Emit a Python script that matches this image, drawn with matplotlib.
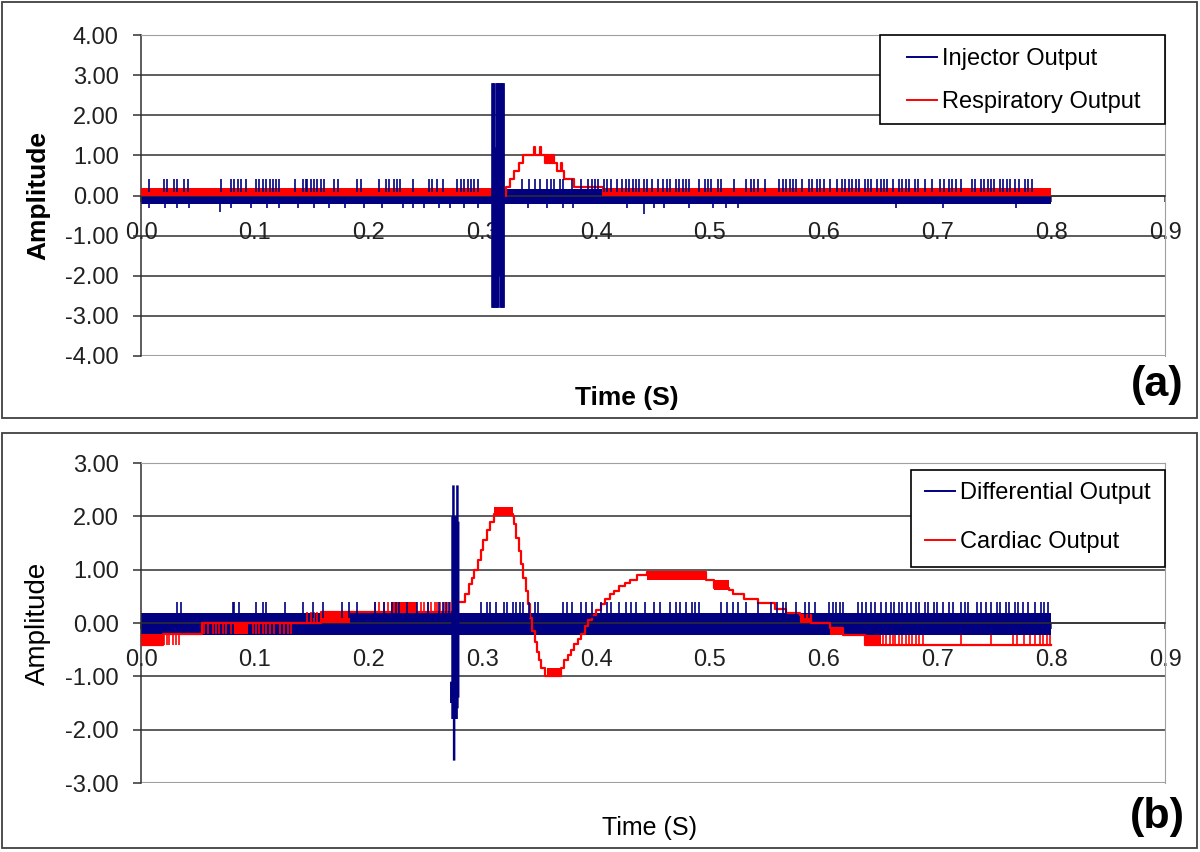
import numpy as np
import matplotlib.pyplot as plt
from matplotlib.patches import Rectangle
from matplotlib.lines import Line2D

plt.rcParams['font.family'] = ['Liberation Sans', 'DejaVu Sans']

NAVY = '#000080'
RED = '#ff0000'
GRID = '#303030'
EDGE = '#a0a0a0'

# axes
t_ticks = [0.0, 0.1, 0.2, 0.3, 0.4, 0.5, 0.6, 0.7, 0.8, 0.9]
t_labels = ['0.0', '0.1', '0.2', '0.3', '0.4', '0.5', '0.6', '0.7', '0.8', '0.9']
ya_ticks = [-4, -3, -2, -1, 0, 1, 2, 3, 4]
yb_ticks = [-3, -2, -1, 0, 1, 2, 3]

# ---------------- (a) injector output ----------------
inj_floor_t = [0.0, 0.8]
inj_floor_lo = [-0.20, -0.20]
inj_floor_hi = [0.17, 0.17]
inj_up_t = [0.007, 0.020, 0.023, 0.029, 0.032, 0.038, 0.041, 0.070, 0.079, 0.082,
            0.085, 0.088, 0.092, 0.101, 0.104, 0.107, 0.110, 0.113, 0.116, 0.119,
            0.121, 0.135, 0.142, 0.145, 0.146, 0.149, 0.152, 0.155, 0.158, 0.161,
            0.170, 0.173, 0.190, 0.193, 0.209, 0.215, 0.218, 0.222, 0.225, 0.228,
            0.239, 0.253, 0.256, 0.260, 0.265, 0.278, 0.281, 0.284, 0.287, 0.290,
            0.293, 0.296, 0.335, 0.341, 0.346, 0.351, 0.357, 0.360, 0.363, 0.368,
            0.371, 0.379, 0.387, 0.393, 0.396, 0.399, 0.402, 0.407, 0.410, 0.413,
            0.418, 0.423, 0.426, 0.429, 0.432, 0.435, 0.438, 0.442, 0.445, 0.449,
            0.454, 0.459, 0.462, 0.465, 0.470, 0.473, 0.476, 0.479, 0.482, 0.490,
            0.496, 0.498, 0.501, 0.507, 0.510, 0.521, 0.532, 0.536, 0.539, 0.542,
            0.548, 0.561, 0.564, 0.567, 0.570, 0.573, 0.576, 0.581, 0.587, 0.590,
            0.594, 0.597, 0.600, 0.606, 0.612, 0.616, 0.619, 0.622, 0.625, 0.628,
            0.631, 0.636, 0.639, 0.642, 0.647, 0.650, 0.653, 0.656, 0.661, 0.666,
            0.669, 0.672, 0.675, 0.680, 0.683, 0.689, 0.695, 0.702, 0.706, 0.710,
            0.713, 0.716, 0.721, 0.730, 0.733, 0.738, 0.741, 0.744, 0.747, 0.750,
            0.755, 0.758, 0.761, 0.764, 0.768, 0.772, 0.777, 0.780, 0.783]
inj_up_top = 0.42
inj_dn_t = [0.007, 0.021, 0.032, 0.042, 0.069, 0.079, 0.097, 0.111, 0.121, 0.138,
            0.152, 0.165, 0.179, 0.196, 0.212, 0.230, 0.239, 0.249, 0.262, 0.272,
            0.284, 0.296, 0.340, 0.357, 0.371, 0.380, 0.427, 0.442, 0.451, 0.460,
            0.482, 0.503, 0.514, 0.525, 0.664, 0.705, 0.769]
inj_dn_v = [-0.30, -0.30, -0.30, -0.30, -0.42, -0.30, -0.30, -0.30, -0.30, -0.30,
            -0.30, -0.30, -0.30, -0.30, -0.30, -0.30, -0.30, -0.30, -0.30, -0.30,
            -0.30, -0.30, -0.30, -0.30, -0.30, -0.30, -0.30, -0.45, -0.30, -0.30,
            -0.30, -0.30, -0.30, -0.30, -0.30, -0.30, -0.30]
inj_burst_t = [0.3090, 0.3102, 0.3114, 0.3126, 0.3138, 0.3150, 0.3162, 0.3174, 0.3186]
inj_burst_hi = [2.80, 2.80, 1.20, 2.80, 2.80, 2.80, 2.80, 2.80, 2.80]
inj_burst_lo = [-2.80, -2.80, -2.80, -2.80, -2.80, -2.00, -2.80, -2.80, -2.80]

# (a) respiratory output
resp_floor_t0 = [0.000, 0.405]
resp_floor_t1 = [0.316, 0.800]
resp_floor_lo = 0.00
resp_floor_hi = 0.19
resp_t = [0.316, 0.321, 0.324, 0.328, 0.332, 0.336, 0.345, 0.346, 0.351, 0.352,
          0.355, 0.356, 0.357, 0.358, 0.359, 0.360, 0.361, 0.362, 0.363, 0.366,
          0.369, 0.370, 0.372, 0.381, 0.405]
resp_v = [0.00, 0.20, 0.40, 0.60, 0.80, 1.00, 1.20, 1.00, 1.20, 1.00,
          0.80, 1.00, 0.80, 1.00, 0.80, 1.00, 0.80, 1.00, 0.80, 0.60,
          0.80, 0.60, 0.40, 0.20, 0.20]

# ---------------- (b) differential output ----------------
diff_floor_t = [0.0, 0.8]
diff_floor_lo = [-0.22, -0.22]
diff_floor_hi = [0.18, 0.18]
diff_up_t = [0.032, 0.035, 0.081, 0.082, 0.086, 0.101, 0.107, 0.110, 0.127, 0.142,
             0.151, 0.160, 0.177, 0.183, 0.190, 0.206, 0.214, 0.221, 0.224, 0.227,
             0.234, 0.243, 0.252, 0.262, 0.265, 0.268, 0.271, 0.299, 0.304, 0.307,
             0.312, 0.319, 0.322, 0.327, 0.330, 0.333, 0.336, 0.341, 0.346, 0.349,
             0.371, 0.374, 0.379, 0.387, 0.391, 0.396, 0.404, 0.410, 0.413, 0.420,
             0.426, 0.431, 0.435, 0.443, 0.451, 0.456, 0.465, 0.470, 0.474, 0.479,
             0.484, 0.487, 0.490, 0.510, 0.515, 0.520, 0.525, 0.532, 0.542, 0.554,
             0.559, 0.564, 0.567, 0.576, 0.584, 0.587, 0.592, 0.605, 0.608, 0.611,
             0.614, 0.617, 0.630, 0.634, 0.637, 0.642, 0.645, 0.650, 0.655, 0.659,
             0.662, 0.666, 0.669, 0.673, 0.677, 0.681, 0.684, 0.689, 0.692, 0.697,
             0.700, 0.705, 0.710, 0.714, 0.721, 0.724, 0.727, 0.735, 0.738, 0.743,
             0.747, 0.752, 0.755, 0.760, 0.763, 0.768, 0.771, 0.775, 0.780, 0.786,
             0.791, 0.794, 0.797]
diff_up_top = 0.40
diff_burst_t = [0.2727, 0.2738, 0.2746, 0.2752, 0.2762, 0.2774, 0.2781, 0.2788]
diff_burst_hi = [-1.10, 2.00, 2.58, 2.00, 2.00, 2.00, 2.58, 1.90]
diff_burst_lo = [-1.50, -1.80, -1.80, -2.58, -1.80, -1.80, -1.60, -1.40]

# (b) cardiac output
card_blk_t0 = [0.000, 0.082, 0.158, 0.220, 0.310, 0.357, 0.445, 0.504, 0.579, 0.606, 0.636]
card_blk_t1 = [0.019, 0.094, 0.184, 0.243, 0.327, 0.369, 0.497, 0.517, 0.589, 0.617, 0.650]
card_blk_lo = [-0.42, -0.20, 0.00, 0.20, 2.00, -1.00, 0.80, 0.62, 0.00, -0.23, -0.42]
card_blk_hi = [-0.20, 0.00, 0.20, 0.40, 2.17, -0.85, 0.96, 0.81, 0.15, -0.10, -0.23]
card_t = [0.000, 0.019, 0.054, 0.158, 0.277, 0.285, 0.288, 0.291, 0.293, 0.296,
          0.299, 0.301, 0.304, 0.307, 0.310, 0.327, 0.328, 0.330, 0.332, 0.334,
          0.336, 0.338, 0.340, 0.342, 0.344, 0.346, 0.348, 0.350, 0.352, 0.355,
          0.369, 0.372, 0.375, 0.378, 0.381, 0.384, 0.387, 0.390, 0.393, 0.396,
          0.400, 0.404, 0.408, 0.412, 0.416, 0.420, 0.425, 0.430, 0.436, 0.445,
          0.497, 0.504, 0.517, 0.520, 0.530, 0.542, 0.557, 0.567, 0.579, 0.589,
          0.606, 0.617, 0.636, 0.800]
card_v = [-0.42, -0.20, 0.00, 0.20, 0.40, 0.55, 0.73, 0.85, 1.00, 1.18,
          1.37, 1.56, 1.75, 1.90, 2.05, 2.00, 1.85, 1.60, 1.35, 1.10,
          0.85, 0.60, 0.35, 0.10, -0.15, -0.35, -0.55, -0.70, -0.85, -1.00,
          -0.85, -0.70, -0.60, -0.50, -0.40, -0.30, -0.20, -0.05, 0.05, 0.15,
          0.25, 0.35, 0.45, 0.55, 0.60, 0.70, 0.75, 0.80, 0.90, 0.96,
          0.80, 0.65, 0.62, 0.55, 0.45, 0.37, 0.27, 0.18, 0.15, 0.00,
          -0.10, -0.23, -0.42, -0.42]
card_tick_t = [
    [0.0205, 0.0228, 0.0249, 0.0278, 0.0307, 0.0337],
    [0.0556, 0.0585, 0.0629, 0.0659, 0.0688, 0.0717, 0.0747, 0.0790, 0.0981, 0.101,
     0.104, 0.107, 0.110, 0.113, 0.117, 0.122, 0.126, 0.129, 0.132],
    [0.146, 0.149, 0.152, 0.155],
    [0.206, 0.209, 0.214, 0.217, 0.246, 0.249, 0.252, 0.255, 0.258, 0.260,
     0.263, 0.266, 0.269, 0.272, 0.275],
    [0.652, 0.655, 0.658, 0.661, 0.663, 0.666, 0.669, 0.672, 0.675, 0.678,
     0.681, 0.684, 0.687, 0.721, 0.747, 0.766, 0.770, 0.776, 0.781, 0.786,
     0.790, 0.793, 0.796, 0.799],
]
card_tick_lo = [-0.42, -0.20, 0.00, 0.20, -0.42]
card_tick_hi = [-0.20, 0.00, 0.20, 0.40, -0.23]

W, H = 1200, 852
fig = plt.figure(figsize=(W / 100, H / 100), dpi=100)


def px(x, y):
    return x / W, 1 - y / H


def setup(ax, yticks):
    ax.set_xlim(0, 0.9)
    ax.set_ylim(yticks[0], yticks[-1])
    ax.set_xticks(t_ticks)
    ax.set_xticklabels(t_labels)
    ax.set_yticks(yticks)
    ax.set_yticklabels(['%.2f' % v for v in yticks])
    ax.spines['bottom'].set_position(('data', 0))
    ax.spines['bottom'].set_color(GRID)
    ax.spines['bottom'].set_linewidth(1.1)
    ax.spines['left'].set_color(GRID)
    ax.spines['left'].set_linewidth(1.1)
    ax.spines['top'].set_color(EDGE)
    ax.spines['right'].set_color(EDGE)
    ax.axhline(yticks[0], color=EDGE, lw=1.5, zorder=1)
    for v in yticks[1:-1]:
        ax.axhline(v, color=GRID, lw=1.1, zorder=1)
    ax.tick_params(axis='x', direction='out', length=4, width=1.1, color=GRID,
                   pad=15, labelsize=17, labelcolor='#202020')
    ax.tick_params(axis='y', direction='out', length=6, width=1.1, color=GRID,
                   pad=10, labelsize=17, labelcolor='#202020')


def frame(y0, y1):
    x, y = px(2, y1)
    fig.patches.append(Rectangle((x, y), 1195 / W, (y1 - y0) / H, transform=fig.transFigure,
                                 fill=False, ec='#404040', lw=1.3))


def legend_box(ax, labels, box, handle_x, text_top, spacing):
    x0, y0, x1, y1 = box
    ax.add_patch(Rectangle(px(x0, y1), (x1 - x0) / W, (y1 - y0) / H,
                           transform=fig.transFigure, fc='white', ec='black', lw=1.2,
                           zorder=9, clip_on=False))
    handles = [Line2D([], [], color=NAVY, lw=1.4), Line2D([], [], color=RED, lw=1.4)]
    leg = ax.legend(handles, labels, loc='upper left', bbox_to_anchor=px(handle_x, text_top),
                    bbox_transform=fig.transFigure, frameon=False, borderpad=0,
                    borderaxespad=0, fontsize=17, handlelength=1.27, handletextpad=0.22,
                    labelspacing=spacing)
    leg.set_zorder(10)


# ----- panel (a) -----
frame(2, 418)
ax1 = fig.add_axes([141 / W, 1 - 356 / H, 1024 / W, 321 / H])
setup(ax1, ya_ticks)
ax1.fill_between(inj_floor_t, inj_floor_lo, inj_floor_hi, color=NAVY, lw=0, zorder=2)
for t0, t1 in zip(resp_floor_t0, resp_floor_t1):
    ax1.fill_between([t0, t1], resp_floor_lo, resp_floor_hi, color=RED, lw=0, zorder=3)
ax1.plot(resp_t, resp_v, drawstyle='steps-post', color=RED, lw=1.6, zorder=3.5)
ax1.vlines(inj_up_t, 0.08, inj_up_top, color=NAVY, lw=1.2, zorder=4)
ax1.vlines(inj_dn_t, inj_dn_v, -0.15, color=NAVY, lw=1.2, zorder=4)
burst = ax1.vlines(inj_burst_t, inj_burst_lo, inj_burst_hi, color=NAVY, lw=2.0, zorder=5)
burst.set_snap(False)
legend_box(ax1, ['Injector Output', 'Respiratory Output'], (880, 35, 1165, 124),
           907, 48, 0.89)

fig.text(*px(38, 195), 'Amplitude', rotation=90, ha='center', va='center',
         fontsize=19, fontweight='bold')
fig.text(*px(627, 398), 'Time (S)', ha='center', va='center', fontsize=19, fontweight='bold')
fig.text(*px(1157, 385), '(a)', ha='center', va='center', fontsize=31, fontweight='bold')

# ----- panel (b) -----
frame(433, 848)
ax2 = fig.add_axes([141 / W, 1 - 783 / H, 1024 / W, 320 / H])
setup(ax2, yb_ticks)
ax2.fill_between(diff_floor_t, diff_floor_lo, diff_floor_hi, color=NAVY, lw=0, zorder=2)
for t0, t1, lo, hi in zip(card_blk_t0, card_blk_t1, card_blk_lo, card_blk_hi):
    ax2.fill_between([t0, t1], lo, hi, color=RED, lw=0, zorder=3)
ax2.plot(card_t, card_v, drawstyle='steps-post', color=RED, lw=1.6, zorder=3)
for ts, lo, hi in zip(card_tick_t, card_tick_lo, card_tick_hi):
    ax2.vlines(ts, lo, hi, color=RED, lw=1.2, zorder=3)
ax2.vlines(diff_up_t, 0.1, diff_up_top, color=NAVY, lw=1.2, zorder=4)
burst = ax2.vlines(diff_burst_t, diff_burst_lo, diff_burst_hi, color=NAVY, lw=1.8, zorder=5)
burst.set_snap(False)
legend_box(ax2, ['Differential Output', 'Cardiac Output'], (911, 470, 1165, 567),
           925, 482, 1.14)

fig.text(*px(38, 623), 'Amplitude', rotation=90, ha='center', va='center', fontsize=20)
fig.text(*px(650, 828), 'Time (S)', ha='center', va='center', fontsize=18)
fig.text(*px(1157, 817), '(b)', ha='center', va='center', fontsize=31, fontweight='bold')

fig.savefig('out.png', dpi=100)
